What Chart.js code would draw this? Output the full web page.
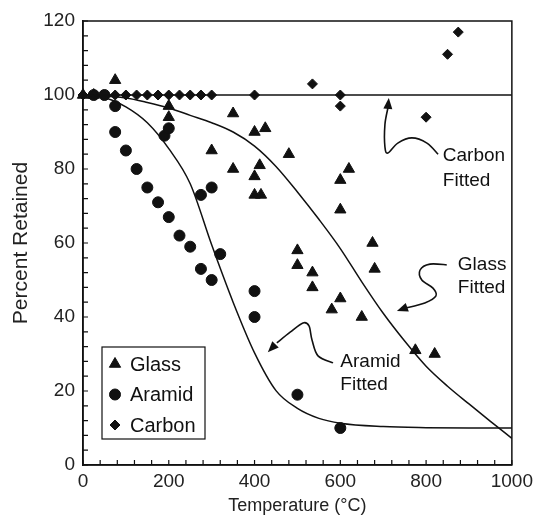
<!DOCTYPE html>
<html>
<head>
<meta charset="utf-8">
<script src="https://cdn.jsdelivr.net/npm/chart.js@4.4.0/dist/chart.umd.min.js"></script>
<style>
html, body { margin: 0; padding: 0; background: #fff; }
</style>
</head>
<body>
<canvas id="chart" width="538" height="525"></canvas>
<script>
// Measured data (temperature in °C, percent retained)
const glassTemp = [0, 25, 75, 200, 200, 300, 350, 350, 400, 400, 400, 415, 412, 425, 480, 500, 500, 535, 535, 580, 600, 600, 600, 620, 650, 675, 680, 775, 820];
const glassPct  = [100, 100, 104, 97, 94, 85, 95, 80, 90, 78, 73, 73, 81, 91, 84, 58, 54, 52, 48, 42, 45, 77, 69, 80, 40, 60, 53, 31, 30];

const aramidTemp = [25, 50, 75, 75, 100, 125, 150, 175, 190, 200, 200, 225, 250, 275, 275, 300, 300, 320, 400, 400, 500, 600];
const aramidPct  = [100, 100, 97, 90, 85, 80, 75, 71, 89, 91, 67, 62, 59, 53, 73, 50, 75, 57, 47, 40, 19, 10];

const carbonTemp = [0, 25, 50, 75, 100, 125, 150, 175, 200, 225, 250, 275, 300, 400, 535, 600, 600, 800, 850, 875];
const carbonPct  = [100, 100, 100, 100, 100, 100, 100, 100, 100, 100, 100, 100, 100, 100, 103, 100, 97, 94, 111, 117];

// Fitted curves
const glassFitTemp = [0, 100, 150, 200, 250, 300, 350, 400, 450, 500, 550, 600, 650, 700, 750, 800, 850, 900, 950, 1000];
const glassFitPct  = [100, 99.2, 98, 96.5, 94.5, 92.5, 90, 86.2, 80.7, 73.8, 66.4, 58.5, 49.5, 41, 33.5, 26.7, 21.3, 16.5, 11.8, 7.2];

const aramidFitTemp = [0, 50, 100, 150, 200, 250, 300, 350, 400, 450, 500, 550, 600, 700, 800, 900, 1000];
const aramidFitPct  = [100, 99.3, 96.8, 92.5, 85.5, 76, 59.5, 44, 30.3, 20.1, 15.3, 12.6, 11.3, 10.4, 10.1, 10, 10];

const carbonFitTemp = [0, 1000];
const carbonFitPct  = [100, 100];

const legendLabels = ['Glass', 'Aramid', 'Carbon'];
const legendStyles = ['triangle', 'circle', 'rectRot'];
const legendRadius = [6.5, 5.5, 5];

// Curve labels with their arrows, in data units
const notes = [
    { lines: ['Carbon', 'Fitted'], at: [839, 83.5], step: 6.8,
      path: [[828, 84], [802, 87], [767, 88.4], [734, 87], [711, 84.3], [704, 86], [704, 92], [711, 96.5]], tip: [713, 99.2] },
    { lines: ['Glass', 'Fitted'], at: [874, 54], step: 6.2,
      path: [[848, 54.1], [809, 54.3], [786, 52.7], [790, 50], [816, 47.8], [823, 45.7], [797, 43.8], [751, 42.4]], tip: [732, 41.6] },
    { lines: ['Aramid', 'Fitted'], at: [600, 27.8], step: 6.2,
      path: [[583, 27.6], [548, 29.5], [534, 33.8], [527, 37.6], [513, 38.4], [483, 35.9], [452, 33]], tip: [431, 30.5] }
];

function pairs(xs, ys) {
    return xs.map((x, i) => ({ x: x, y: ys[i] }));
}

const ink = '#111';
const fontFamily = '"Liberation Sans", Arial, Helvetica, sans-serif';

// frame, inward ticks, legend and notes
const decorations = {
    id: 'decorations',
    afterDraw(chart) {
        const ctx = chart.ctx;
        const area = chart.chartArea;
        const xs = chart.scales.x;
        const ys = chart.scales.y;
        ctx.save();
        ctx.strokeStyle = ink;
        ctx.lineWidth = 1.5;
        ctx.strokeRect(area.left, area.top, area.right - area.left, area.bottom - area.top);

        ctx.lineWidth = 1.2;
        ctx.beginPath();
        for (let v = 0; v <= 120; v += 4) {
            const py = ys.getPixelForValue(v);
            ctx.moveTo(area.left, py);
            ctx.lineTo(area.left + 5, py);
        }
        for (let v = 0; v <= 1000; v += 40) {
            const px = xs.getPixelForValue(v);
            ctx.moveTo(px, area.bottom);
            ctx.lineTo(px, area.bottom - 5);
        }
        ctx.stroke();

        // legend box
        const bx = area.left + 19, by = area.bottom - 118;
        ctx.lineWidth = 1.2;
        ctx.fillStyle = '#fff';
        ctx.fillRect(bx, by, 103, 92);
        ctx.strokeRect(bx, by, 103, 92);
        ctx.font = '20px ' + fontFamily;
        ctx.textBaseline = 'middle';
        ctx.textAlign = 'left';
        legendLabels.forEach((label, i) => {
            const cy = by + 17 + i * 30.5;
            ctx.fillStyle = ink;
            ctx.strokeStyle = ink;
            ctx.lineWidth = 1;
            Chart.helpers.drawPoint(ctx, { pointStyle: legendStyles[i], radius: legendRadius[i], rotation: 0, borderWidth: 1 }, bx + 13, cy);
            ctx.fillText(label, bx + 28, cy + 1);
        });

        // curve labels and arrows
        ctx.font = '19px ' + fontFamily;
        notes.forEach(n => {
            n.lines.forEach((t, i) => {
                ctx.fillStyle = ink;
                ctx.fillText(t, xs.getPixelForValue(n.at[0]), ys.getPixelForValue(n.at[1] - i * n.step));
            });
            const pts = n.path.map(p => [xs.getPixelForValue(p[0]), ys.getPixelForValue(p[1])]);
            const tip = [xs.getPixelForValue(n.tip[0]), ys.getPixelForValue(n.tip[1])];
            ctx.strokeStyle = ink;
            ctx.lineWidth = 1.6;
            ctx.beginPath();
            ctx.moveTo(pts[0][0], pts[0][1]);
            for (let i = 0; i < pts.length - 1; i++) {
                const p0 = pts[i - 1] || pts[i];
                const p1 = pts[i];
                const p2 = pts[i + 1];
                const p3 = pts[i + 2] || p2;
                ctx.bezierCurveTo(
                    p1[0] + (p2[0] - p0[0]) / 6, p1[1] + (p2[1] - p0[1]) / 6,
                    p2[0] - (p3[0] - p1[0]) / 6, p2[1] - (p3[1] - p1[1]) / 6,
                    p2[0], p2[1]);
            }
            ctx.stroke();
            const last = pts[pts.length - 1];
            const ang = Math.atan2(tip[1] - last[1], tip[0] - last[0]);
            const len = 11, half = 4.5;
            const baseX = tip[0] - Math.cos(ang) * len;
            const baseY = tip[1] - Math.sin(ang) * len;
            ctx.fillStyle = ink;
            ctx.beginPath();
            ctx.moveTo(tip[0], tip[1]);
            ctx.lineTo(baseX + Math.sin(ang) * half, baseY - Math.cos(ang) * half);
            ctx.lineTo(baseX - Math.sin(ang) * half, baseY + Math.cos(ang) * half);
            ctx.closePath();
            ctx.fill();
        });
        ctx.restore();
    }
};

function fitLine(xs, ys) {
    return {
        type: 'line',
        data: pairs(xs, ys),
        borderColor: ink,
        borderWidth: 1.5,
        pointRadius: 0,
        fill: false,
        cubicInterpolationMode: 'monotone'
    };
}

function markers(label, xs, ys, style, r) {
    return {
        label: label,
        data: pairs(xs, ys),
        pointStyle: style,
        pointRadius: r,
        pointHoverRadius: r,
        backgroundColor: ink,
        borderColor: ink,
        borderWidth: 1,
        clip: false
    };
}

new Chart(document.getElementById('chart'), {
    type: 'scatter',
    data: {
        datasets: [
            fitLine(carbonFitTemp, carbonFitPct),
            fitLine(glassFitTemp, glassFitPct),
            fitLine(aramidFitTemp, aramidFitPct),
            markers('Glass', glassTemp, glassPct, 'triangle', 6.5),
            markers('Aramid', aramidTemp, aramidPct, 'circle', 5.5),
            markers('Carbon', carbonTemp, carbonPct, 'rectRot', 5)
        ]
    },
    options: {
        responsive: false,
        animation: false,
        layout: { padding: { top: 21, right: 26, left: 0, bottom: 0 } },
        plugins: { legend: { display: false }, tooltip: { enabled: false } },
        scales: {
            x: {
                type: 'linear',
                min: 0,
                max: 1000,
                afterFit: s => { s.height = 60; },
                grid: { display: false, drawTicks: false },
                border: { display: true, color: ink, width: 1.5 },
                ticks: { stepSize: 200, padding: 5, color: '#222', maxRotation: 0,
                         callback: v => String(v),
                         font: { family: fontFamily, size: 19 } },
                title: { display: true, text: 'Temperature (°C)', color: '#222',
                         padding: { top: 0, bottom: 8 },
                         font: { family: fontFamily, size: 18 } }
            },
            y: {
                type: 'linear',
                min: 0,
                max: 120,
                afterFit: s => { s.width = 83; },
                grid: { display: false, drawTicks: false },
                border: { display: true, color: ink, width: 1.5 },
                ticks: { stepSize: 20, padding: 8, color: '#222',
                         callback: v => String(v),
                         font: { family: fontFamily, size: 19 } },
                title: { display: true, text: 'Percent Retained', color: '#222',
                         padding: { top: 9, bottom: 0 },
                         font: { family: fontFamily, size: 21 } }
            }
        }
    },
    plugins: [decorations]
});
</script>
</body>
</html>
